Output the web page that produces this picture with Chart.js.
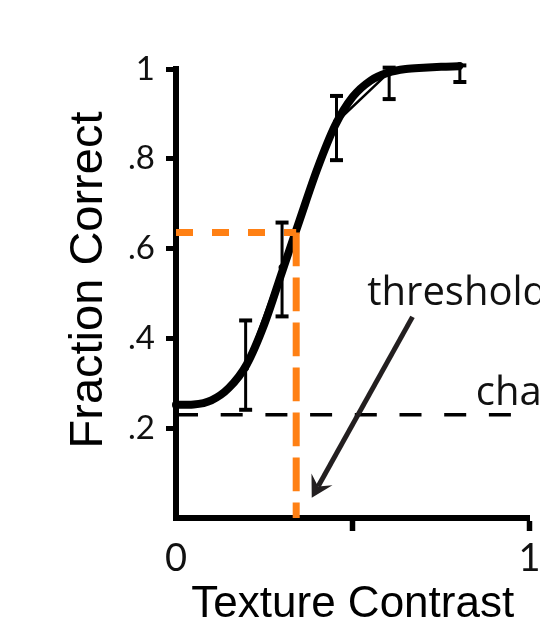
<!DOCTYPE html>
<html><head><meta charset="utf-8">
<script src="https://cdn.jsdelivr.net/npm/chart.js@4.4.1/dist/chart.umd.min.js"></script>
<style>html,body{margin:0;padding:0;background:#fff;overflow:hidden}canvas{display:block}</style>
</head><body>
<canvas id="c" width="540" height="622"></canvas>
<script>
// ---- data ----
const xTickValues = [0, 0.5, 1];
const xTickLabels = ['0', '', '1'];
const yTickValues = [0, 0.2, 0.4, 0.6, 0.8, 1];
const yTickLabels = ['', '.2', '.4', '.6', '.8', '1'];

const contrast = [0.197, 0.300, 0.454, 0.603, 0.803];
const fractionCorrect = [0.335, 0.558, 0.882, 0.993, 1.008];
const errorLow = [0.241, 0.449, 0.797, 0.933, 0.971];
const errorHigh = [0.440, 0.658, 0.940, 1.003, 1.008];

const fitContrast = [0, 0.05, 0.10, 0.15, 0.20, 0.25, 0.30, 0.35, 0.40, 0.45, 0.50, 0.55, 0.60, 0.65, 0.70, 0.75, 0.80];
const fitFraction = [0.252, 0.253, 0.262, 0.290, 0.342, 0.432, 0.548, 0.664, 0.778, 0.874, 0.938, 0.974, 0.992, 1.000, 1.003, 1.005, 1.006];

const thresholdContrast = 0.34;
const thresholdFraction = 0.636;
const chanceLevel = 0.23;
const chanceExtent = [0, 0.951];

const xTitle = 'Texture Contrast';
const yTitle = 'Fraction Correct';
const thresholdLabel = 'threshold';
const chanceLabel = 'chance';

// annotation anchor positions (data units)
const thresholdLabelPos = {x: 0.541, y: 0.474};
const chanceLabelPos = {x: 0.848, y: 0.252};
const arrowFrom = {x: 0.669, y: 0.448};
const arrowTo = {x: 0.384, y: 0.045};

// ---- styles ----
const BLACK = '#000';
const ORANGE = 'rgb(255,128,20)';

const datasets = [];
datasets.push({
  label: 'threshold',
  data: [{x: 0, y: thresholdFraction}, {x: thresholdContrast, y: thresholdFraction}, {x: thresholdContrast, y: 0}],
  showLine: true, borderColor: ORANGE, borderWidth: 7, pointRadius: 0, borderCapStyle: 'butt', clip: false,
  segment: {borderDash: ctx => ctx.p0DataIndex === 0 ? [17, 19] : [20, 25]}
});
datasets.push({
  label: 'fit',
  data: fitContrast.map((v, i) => ({x: v, y: fitFraction[i]})),
  showLine: true, borderColor: BLACK, borderWidth: 8, pointRadius: 0, cubicInterpolationMode: 'monotone',
  borderCapStyle: 'round', borderJoinStyle: 'round', clip: false
});
datasets.push({
  label: 'data',
  data: contrast.map((v, i) => ({x: v, y: fractionCorrect[i]})),
  showLine: true, borderColor: BLACK, borderWidth: 2.5, pointRadius: 3.5, pointBackgroundColor: BLACK,
  pointBorderWidth: 0, clip: false
});
contrast.forEach((v, i) => {
  datasets.push({
    label: 'err' + i,
    data: [{x: v, y: errorLow[i]}, {x: v, y: errorHigh[i]}],
    showLine: true, borderColor: BLACK, borderWidth: 3, pointStyle: 'line', pointRadius: 6.5,
    pointBorderWidth: 4, pointBorderColor: BLACK, clip: false
  });
});
datasets.push({
  label: 'chance',
  data: [{x: chanceExtent[0], y: chanceLevel}, {x: chanceExtent[1], y: chanceLevel}],
  showLine: true, borderColor: BLACK, borderWidth: 3.5, borderDash: [22, 22.7], pointRadius: 0, clip: false
});

const annotationPlugin = {
  id: 'annotations',
  afterDraw(chart) {
    const {ctx, scales: {x, y}} = chart;
    ctx.save();
    // y-axis title
    ctx.fillStyle = '#000';
    ctx.font = '47px "Liberation Sans"';
    ctx.textAlign = 'center';
    ctx.textBaseline = 'alphabetic';
    ctx.save();
    ctx.translate(y.left + 102, 280);
    ctx.rotate(-Math.PI / 2);
    ctx.fillText(yTitle, 0, 0);
    ctx.restore();

    // labels
    ctx.font = '40px "Open Sans"';
    ctx.textAlign = 'left';
    ctx.fillStyle = '#111';
    ctx.fillText(thresholdLabel, x.getPixelForValue(thresholdLabelPos.x), y.getPixelForValue(thresholdLabelPos.y));
    ctx.fillText(chanceLabel, x.getPixelForValue(chanceLabelPos.x), y.getPixelForValue(chanceLabelPos.y));

    // arrow
    const x0 = x.getPixelForValue(arrowFrom.x), y0 = y.getPixelForValue(arrowFrom.y);
    const x1 = x.getPixelForValue(arrowTo.x), y1 = y.getPixelForValue(arrowTo.y);
    const dx = x1 - x0, dy = y1 - y0, len = Math.hypot(dx, dy);
    const ux = dx / len, uy = dy / len, nx = -uy, ny = ux;
    const headLen = 21, headHalf = 12, notch = 13;
    ctx.strokeStyle = '#231f20';
    ctx.fillStyle = '#231f20';
    ctx.lineWidth = 5;
    ctx.lineCap = 'butt';
    ctx.beginPath();
    ctx.moveTo(x0, y0);
    ctx.lineTo(x1 - ux * notch, y1 - uy * notch);
    ctx.stroke();
    ctx.beginPath();
    ctx.moveTo(x1, y1);
    ctx.lineTo(x1 - ux * headLen + nx * headHalf, y1 - uy * headLen + ny * headHalf);
    ctx.lineTo(x1 - ux * notch, y1 - uy * notch);
    ctx.lineTo(x1 - ux * headLen - nx * headHalf, y1 - uy * headLen - ny * headHalf);
    ctx.closePath();
    ctx.fill();
    ctx.restore();
  }
};

new Chart(document.getElementById('c'), {
  type: 'scatter',
  data: {datasets},
  options: {
    responsive: false,
    animation: false,
    devicePixelRatio: 1,
    layout: {padding: {top: 69, right: 10, bottom: 0, left: 0}},
    plugins: {legend: {display: false}, tooltip: {enabled: false}},
    elements: {line: {tension: 0}},
    scales: {
      x: {
        type: 'linear', min: 0, max: 1,
        afterBuildTicks: s => { s.ticks = xTickValues.map(v => ({value: v})); },
        afterFit: s => { s.height = 104; s.paddingLeft = 0; s.paddingRight = 0; },
        ticks: {
          callback: (v, i) => xTickLabels[i],
          font: {family: 'Lato', size: 38}, color: '#111', padding: 5, maxRotation: 0, autoSkip: false
        },
        grid: {
          drawOnChartArea: false, drawTicks: true, tickLength: 13, tickWidth: 5.5,
          tickColor: c => (c.tick && c.tick.value === 0) ? 'rgba(0,0,0,0)' : BLACK
        },
        border: {display: true, color: BLACK, width: 6},
        title: {display: true, text: xTitle, color: BLACK, padding: 0,
          font: {family: 'Liberation Sans', size: 44, lineHeight: 0.8}}
      },
      y: {
        type: 'linear', min: 0, max: 1,
        afterBuildTicks: s => { s.ticks = yTickValues.map(v => ({value: v})); },
        afterFit: s => { s.width = 176; },
        ticks: {
          callback: (v, i) => yTickLabels[i],
          font: {family: 'Lato', size: 33}, color: '#111', padding: 11, autoSkip: false
        },
        grid: {
          drawOnChartArea: false, drawTicks: true, tickLength: 10, tickWidth: 5,
          tickColor: c => (c.tick && c.tick.value === 0) ? 'rgba(0,0,0,0)' : BLACK
        },
        border: {display: true, color: BLACK, width: 6},
        title: {display: false}
      }
    }
  },
  plugins: [annotationPlugin]
});
</script>
</body></html>
